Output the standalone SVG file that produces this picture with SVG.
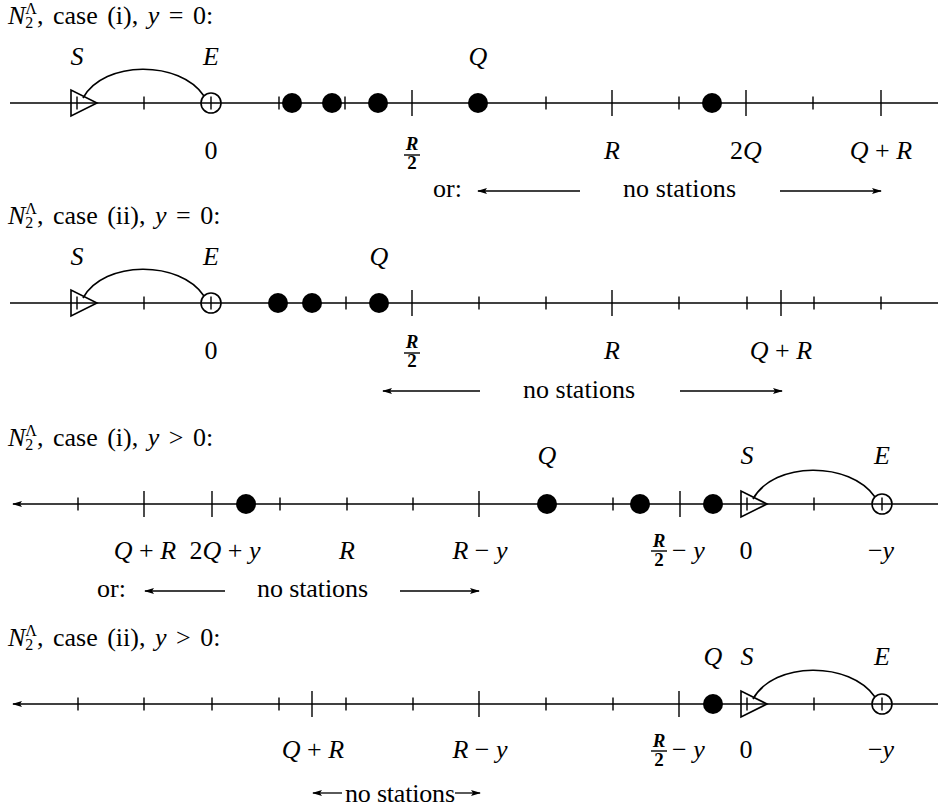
<svg xmlns="http://www.w3.org/2000/svg" width="938" height="808" viewBox="0 0 938 808">
<defs>
<style>
.ax{stroke:#000;stroke-width:1.6;fill:none}
.tk{stroke:#000;stroke-width:1.4;fill:none}
.dot{fill:#000}
.st{fill:none;stroke:#000;stroke-width:1.6}
.arc{fill:none;stroke:#000;stroke-width:1.6}
.ar{stroke:#000;stroke-width:1.3;fill:none;marker-end:url(#ah)}
.t{font-family:"Liberation Serif",serif;font-size:26px;fill:#000}
.ti{font-family:"Liberation Serif",serif;font-size:26px;word-spacing:3px;fill:#000}
.sb{font-size:16px}
.m{font-style:italic}
.c{text-anchor:middle}
.fr{font-family:"Liberation Serif",serif;font-size:19px;font-weight:bold;fill:#000;text-anchor:middle}
</style>
<marker id="ah" viewBox="0 0 10 6" refX="9" refY="3" markerWidth="10" markerHeight="6" markerUnits="userSpaceOnUse" orient="auto">
<path d="M0,0 L10,3 L0,6 L2,3 z" fill="#000"/>
</marker>
</defs>
<rect width="938" height="808" fill="#fff"/>

<!-- Panel 1 -->
<text class="ti" x="8" y="24"><tspan class="m">N</tspan><tspan class="sb" dy="4">2</tspan><tspan class="sb" dx="-8" dy="-14">Λ</tspan><tspan dy="10">, case (i), </tspan><tspan class="m">y</tspan> = 0:</text>
<g id="panel1" transform="translate(0,103)">
  <g id="p1-axis">
    <line class="ax" x1="10" y1="0" x2="938" y2="0"/>
    <path class="tk" d="M77,-6.5v13M144,-6.5v13M211,-6.5v13M279,-6.5v13M345,-6.5v13M546,-6.5v13M679,-6.5v13M813,-6.5v13M412,-13v26M612,-13v26M746,-13v26M881,-13v26"/>
    <text class="t c" x="211" y="56">0</text>
    <text class="fr m" x="412" y="47">R</text><line class="tk" x1="404" y1="52" x2="420" y2="52" stroke-width="1.3"/><text class="fr" x="412" y="66">2</text>
    <text class="t m c" x="612" y="56">R</text>
    <text class="t c" x="746" y="56">2<tspan class="m">Q</tspan></text>
    <text class="t c" x="881" y="56"><tspan class="m">Q</tspan> + <tspan class="m">R</tspan></text>
  </g>
  <g id="p1-S"><polygon class="st" points="71,-13 71,13 97,0"/><text class="t m c" x="77" y="-38">S</text></g>
  <g id="p1-E"><circle class="st" cx="211" cy="0" r="10"/><text class="t m c" x="211" y="-38">E</text></g>
  <g id="p1-st1"><circle class="dot" cx="292" cy="0" r="10"/></g>
  <g id="p1-st2"><circle class="dot" cx="332" cy="0" r="10"/></g>
  <g id="p1-st3"><circle class="dot" cx="378" cy="0" r="10"/></g>
  <g id="p1-Q"><circle class="dot" cx="478" cy="0" r="10"/><text class="t m c" x="478" y="-38">Q</text></g>
  <g id="p1-st5"><circle class="dot" cx="712" cy="0" r="10"/></g>
  <g id="p1-connectors"><path class="arc" d="M83,-5 C104,-43 180,-43 204,-7"/></g>
</g>
<g id="p1-nostations">
  <text class="t" x="433" y="197">or:</text>
  <line class="ar" x1="580" y1="191" x2="478" y2="191"/>
  <text class="t" x="623" y="197" textLength="113">no stations</text>
  <line class="ar" x1="780" y1="191" x2="881" y2="191"/>
</g>

<!-- Panel 2 -->
<text class="ti" x="8" y="224"><tspan class="m">N</tspan><tspan class="sb" dy="4">2</tspan><tspan class="sb" dx="-8" dy="-14">Λ</tspan><tspan dy="10">, case (ii), </tspan><tspan class="m">y</tspan> = 0:</text>
<g id="panel2" transform="translate(0,303)">
  <g id="p2-axis">
    <line class="ax" x1="10" y1="0" x2="938" y2="0"/>
    <path class="tk" d="M77,-6.5v13M144,-6.5v13M211,-6.5v13M346,-6.5v13M479,-6.5v13M546,-6.5v13M679,-6.5v13M747,-6.5v13M814,-6.5v13M881,-6.5v13M412,-13v26M612,-13v26M781,-13v26"/>
    <text class="t c" x="211" y="56">0</text>
    <text class="fr m" x="412" y="45">R</text><line class="tk" x1="404" y1="50" x2="420" y2="50" stroke-width="1.3"/><text class="fr" x="412" y="64">2</text>
    <text class="t m c" x="612" y="56">R</text>
    <text class="t c" x="781" y="56"><tspan class="m">Q</tspan> + <tspan class="m">R</tspan></text>
  </g>
  <g id="p2-S"><polygon class="st" points="71,-13 71,13 97,0"/><text class="t m c" x="77" y="-38">S</text></g>
  <g id="p2-E"><circle class="st" cx="211" cy="0" r="10"/><text class="t m c" x="211" y="-38">E</text></g>
  <g id="p2-st1"><circle class="dot" cx="278" cy="0" r="10"/></g>
  <g id="p2-st2"><circle class="dot" cx="312" cy="0" r="10"/></g>
  <g id="p2-Q"><circle class="dot" cx="379" cy="0" r="10"/><text class="t m c" x="379" y="-38">Q</text></g>
  <g id="p2-connectors"><path class="arc" d="M83,-5 C104,-43 180,-43 204,-7"/></g>
</g>
<g id="p2-nostations">
  <line class="ar" x1="480" y1="391" x2="383" y2="391"/>
  <text class="t" x="523" y="398" textLength="112">no stations</text>
  <line class="ar" x1="680" y1="391" x2="782" y2="391"/>
</g>

<!-- Panel 3 -->
<text class="ti" x="8" y="446"><tspan class="m">N</tspan><tspan class="sb" dy="4">2</tspan><tspan class="sb" dx="-8" dy="-14">Λ</tspan><tspan dy="10">, case (i), </tspan><tspan class="m">y</tspan> &gt; 0:</text>
<g id="panel3" transform="translate(0,504)">
  <g id="p3-axis">
    <line class="ax" x1="938" y1="0" x2="13" y2="0" style="marker-end:url(#ah)"/>
    <path class="tk" d="M78,-6.5v13M280,-6.5v13M347,-6.5v13M413,-6.5v13M613,-6.5v13M747,-6.5v13M814,-6.5v13M882,-6.5v13M144,-13v26M212,-13v26M479,-13v26M680,-13v26"/>
    <text class="t c" x="145" y="55"><tspan class="m">Q</tspan> + <tspan class="m">R</tspan></text>
    <text class="t c" x="225" y="55">2<tspan class="m">Q</tspan> + <tspan class="m">y</tspan></text>
    <text class="t m c" x="347" y="55">R</text>
    <text class="t c" x="480" y="55"><tspan class="m">R</tspan> − <tspan class="m">y</tspan></text>
    <text class="fr m" x="659" y="43">R</text><line class="tk" x1="651" y1="47" x2="667" y2="47" stroke-width="1.3"/><text class="fr" x="659" y="62">2</text>
    <text class="t" x="672" y="55">− <tspan class="m">y</tspan></text>
    <text class="t c" x="746" y="55">0</text>
    <text class="t c" x="881" y="55">−<tspan class="m">y</tspan></text>
  </g>
  <g id="p3-st1"><circle class="dot" cx="246" cy="0" r="10"/></g>
  <g id="p3-Q"><circle class="dot" cx="547" cy="0" r="10"/><text class="t m c" x="547" y="-40">Q</text></g>
  <g id="p3-st3"><circle class="dot" cx="640" cy="0" r="10"/></g>
  <g id="p3-st4"><circle class="dot" cx="713" cy="0" r="10"/></g>
  <g id="p3-S"><polygon class="st" points="741,-13 741,13 767,0"/><text class="t m c" x="747" y="-40">S</text></g>
  <g id="p3-E"><circle class="st" cx="882" cy="0" r="10"/><text class="t m c" x="882" y="-40">E</text></g>
  <g id="p3-connectors"><path class="arc" d="M753,-5 C774,-43 850,-43 875,-7"/></g>
</g>
<g id="p3-nostations">
  <text class="t" x="97" y="597">or:</text>
  <line class="ar" x1="225" y1="591" x2="145" y2="591"/>
  <text class="t" x="257" y="597" textLength="111">no stations</text>
  <line class="ar" x1="400" y1="591" x2="479" y2="591"/>
</g>

<!-- Panel 4 -->
<text class="ti" x="8" y="646"><tspan class="m">N</tspan><tspan class="sb" dy="4">2</tspan><tspan class="sb" dx="-8" dy="-14">Λ</tspan><tspan dy="10">, case (ii), </tspan><tspan class="m">y</tspan> &gt; 0:</text>
<g id="panel4" transform="translate(0,704)">
  <g id="p4-axis">
    <line class="ax" x1="938" y1="0" x2="13" y2="0" style="marker-end:url(#ah)"/>
    <path class="tk" d="M78,-6.5v13M144,-6.5v13M212,-6.5v13M279,-6.5v13M346,-6.5v13M413,-6.5v13M546,-6.5v13M613,-6.5v13M747,-6.5v13M814,-6.5v13M882,-6.5v13M312,-13v26M479,-13v26M679,-13v26"/>
    <text class="t c" x="313" y="54"><tspan class="m">Q</tspan> + <tspan class="m">R</tspan></text>
    <text class="t c" x="480" y="54"><tspan class="m">R</tspan> − <tspan class="m">y</tspan></text>
    <text class="fr m" x="659" y="43">R</text><line class="tk" x1="651" y1="47" x2="667" y2="47" stroke-width="1.3"/><text class="fr" x="659" y="62">2</text>
    <text class="t" x="672" y="54">− <tspan class="m">y</tspan></text>
    <text class="t c" x="746" y="54">0</text>
    <text class="t c" x="881" y="54">−<tspan class="m">y</tspan></text>
  </g>
  <g id="p4-Q"><circle class="dot" cx="713" cy="0" r="10"/><text class="t m c" x="713" y="-39">Q</text></g>
  <g id="p4-S"><polygon class="st" points="741,-13 741,13 767,0"/><text class="t m c" x="747" y="-39">S</text></g>
  <g id="p4-E"><circle class="st" cx="882" cy="0" r="10"/><text class="t m c" x="882" y="-39">E</text></g>
  <g id="p4-connectors"><path class="arc" d="M753,-5 C774,-43 850,-43 875,-7"/></g>
</g>
<g id="p4-nostations">
  <line class="ar" x1="342" y1="793" x2="313" y2="793"/>
  <text class="t" x="345" y="802" textLength="110">no stations</text>
  <line class="ar" x1="455" y1="793" x2="480" y2="793"/>
</g>
</svg>
